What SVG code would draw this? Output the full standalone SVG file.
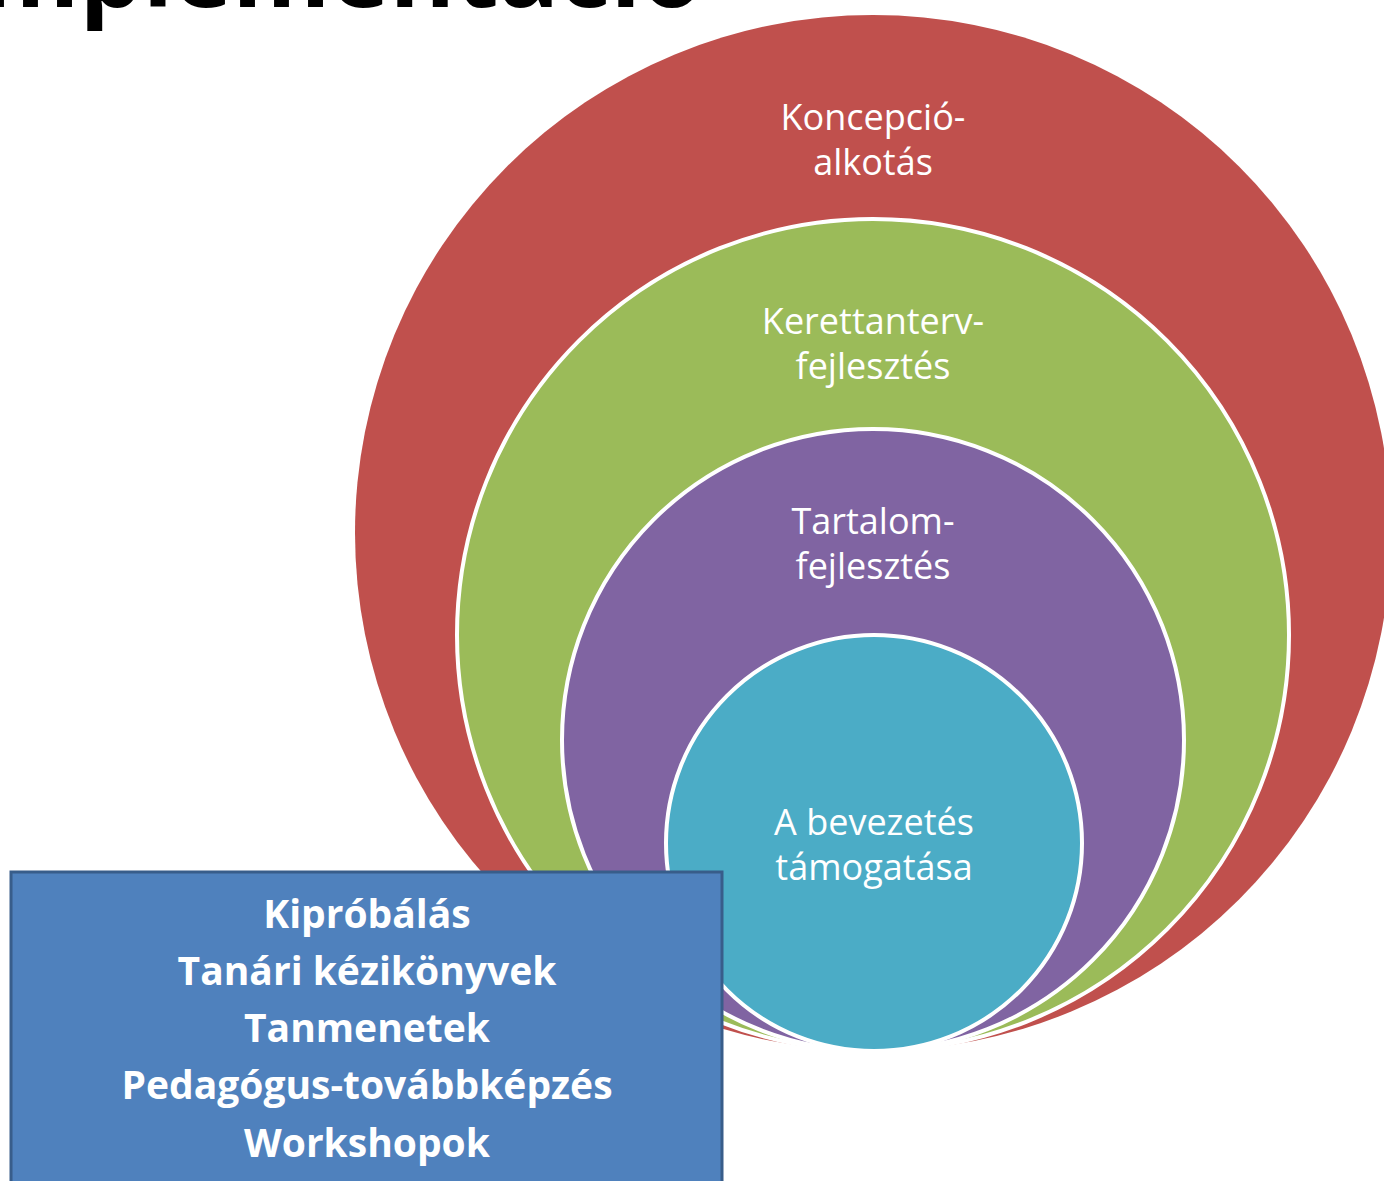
<svg xmlns="http://www.w3.org/2000/svg" width="1384" height="1181" viewBox="0 0 1384 1181">
  <style>
    .ring { stroke: #FFFFFF; stroke-width: 4; }
    .lbl { font-family: "Open Sans", "Liberation Sans", sans-serif; font-size: 36px; fill: #FFFFFF; text-anchor: middle; }
    .box { fill: #4F81BD; stroke: #385D8A; stroke-width: 3; }
    .boxtxt { font-family: "Open Sans", "Liberation Sans", sans-serif; font-size: 39px; font-weight: bold; fill: #FFFFFF; text-anchor: middle; }
    .title { font-family: "Open Sans", "Liberation Sans", sans-serif; font-size: 100px; font-weight: bold; fill: #000000; text-anchor: end; }
  </style>
  <rect width="1384" height="1181" fill="#FFFFFF"/>
  <g id="title">
    <text class="title" x="703" y="7">Implementáció</text>
  </g>
  <g id="connectors"></g>
  <g id="koncepcio">
    <circle cx="873" cy="533" r="518" fill="#C0504D"/>
    <text class="lbl" x="873" y="130">Koncepció-</text>
    <text class="lbl" x="873" y="175">alkotás</text>
  </g>
  <g id="kerettanterv">
    <circle class="ring" cx="873" cy="635" r="416" fill="#9BBB59"/>
    <text class="lbl" x="873" y="334">Kerettanterv-</text>
    <text class="lbl" x="873" y="379">fejlesztés</text>
  </g>
  <g id="tartalom">
    <circle class="ring" cx="873" cy="740" r="311" fill="#8064A2"/>
    <text class="lbl" x="873" y="534">Tartalom-</text>
    <text class="lbl" x="873" y="579">fejlesztés</text>
  </g>
  <g id="bevezetes">
    <circle class="ring" cx="874" cy="843" r="208" fill="#4BACC6"/>
    <text class="lbl" x="874" y="835">A bevezetés</text>
    <text class="lbl" x="874" y="880">támogatása</text>
  </g>
  <g id="lista">
    <rect class="box" x="11" y="872" width="711" height="330"/>
    <text class="boxtxt" x="367" y="928">Kipróbálás</text>
    <text class="boxtxt" x="367" y="985">Tanári kézikönyvek</text>
    <text class="boxtxt" x="367" y="1042">Tanmenetek</text>
    <text class="boxtxt" x="367" y="1099">Pedagógus-továbbképzés</text>
    <text class="boxtxt" x="367" y="1157">Workshopok</text>
  </g>
</svg>
